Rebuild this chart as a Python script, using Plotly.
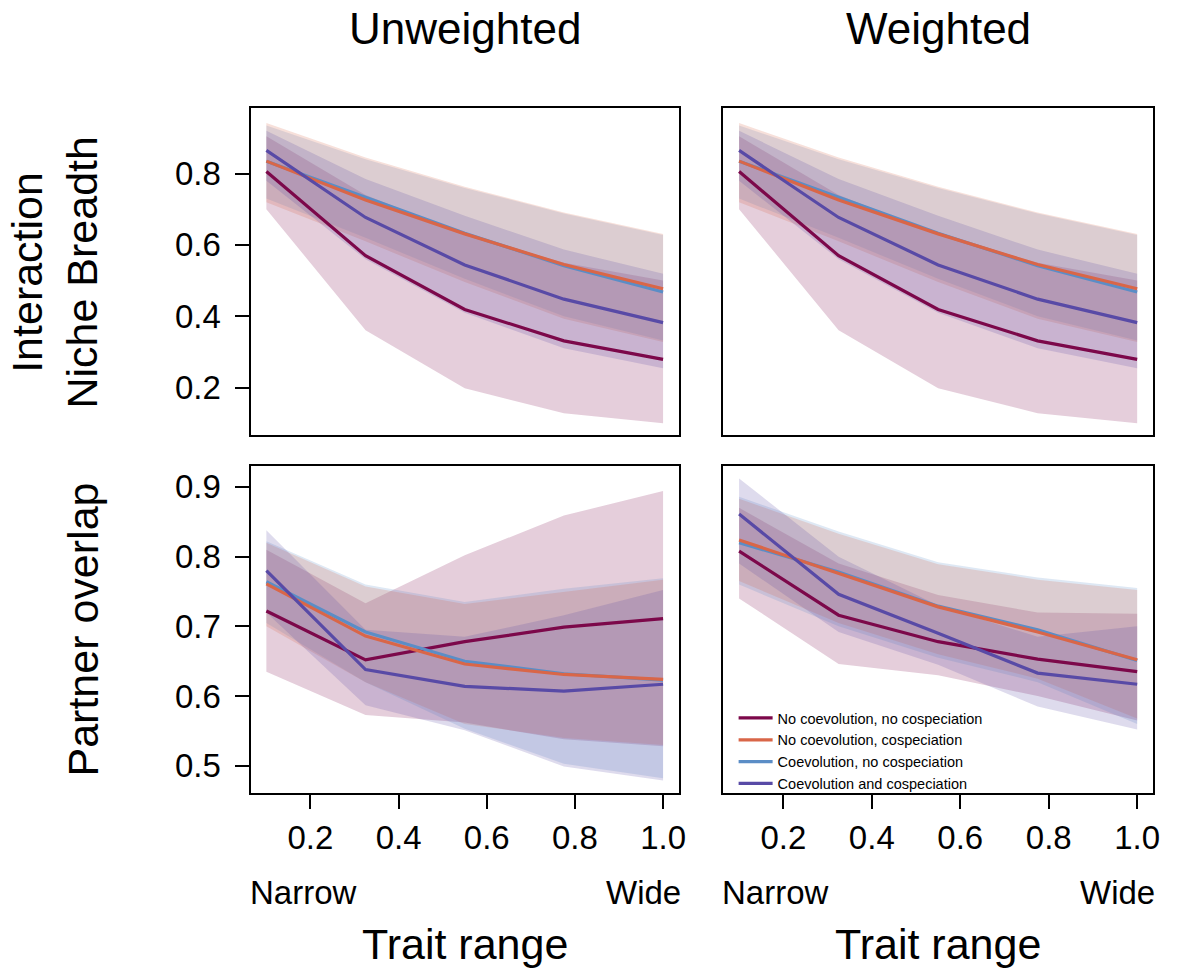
import plotly.graph_objects as go

# ---------------- data ----------------
X = [0.1, 0.325, 0.55, 0.775, 1.0]
SERIES = ["No coevolution, no cospeciation", "No coevolution, cospeciation",
          "Coevolution, no cospeciation", "Coevolution and cospeciation"]

# Interaction niche breadth, unweighted
NB_UNW_MEAN = [[0.806, 0.570, 0.419, 0.331, 0.279],
               [0.835, 0.726, 0.631, 0.545, 0.477],
               [0.835, 0.733, 0.633, 0.542, 0.468],
               [0.865, 0.677, 0.544, 0.448, 0.382]]
NB_UNW_HI = [[0.905, 0.740, 0.630, 0.550, 0.500],
             [0.942, 0.845, 0.763, 0.691, 0.631],
             [0.935, 0.840, 0.760, 0.688, 0.628],
             [0.920, 0.785, 0.682, 0.587, 0.519]]
NB_UNW_LO = [[0.700, 0.361, 0.198, 0.128, 0.100],
             [0.720, 0.610, 0.496, 0.393, 0.328],
             [0.730, 0.620, 0.505, 0.400, 0.332],
             [0.780, 0.560, 0.410, 0.310, 0.254]]

# Interaction niche breadth, weighted
NB_W_MEAN = [[0.806, 0.570, 0.419, 0.331, 0.279],
             [0.835, 0.726, 0.631, 0.545, 0.477],
             [0.835, 0.733, 0.633, 0.542, 0.468],
             [0.865, 0.677, 0.544, 0.448, 0.382]]
NB_W_HI = [[0.905, 0.740, 0.630, 0.550, 0.500],
           [0.942, 0.845, 0.763, 0.691, 0.631],
           [0.935, 0.840, 0.760, 0.688, 0.628],
           [0.920, 0.785, 0.682, 0.587, 0.519]]
NB_W_LO = [[0.700, 0.361, 0.198, 0.128, 0.100],
           [0.720, 0.610, 0.496, 0.393, 0.328],
           [0.730, 0.620, 0.505, 0.400, 0.332],
           [0.780, 0.560, 0.410, 0.310, 0.254]]

# Partner overlap, unweighted
PO_UNW_MEAN = [[0.722, 0.652, 0.678, 0.699, 0.711],
               [0.761, 0.686, 0.646, 0.631, 0.624],
               [0.764, 0.692, 0.650, 0.632, 0.623],
               [0.780, 0.638, 0.614, 0.607, 0.617]]
PO_UNW_HI = [[0.810, 0.733, 0.802, 0.859, 0.894],
             [0.820, 0.757, 0.732, 0.750, 0.767],
             [0.822, 0.760, 0.735, 0.754, 0.769],
             [0.838, 0.695, 0.685, 0.716, 0.752]]
PO_UNW_LO = [[0.635, 0.573, 0.562, 0.538, 0.528],
             [0.700, 0.620, 0.560, 0.540, 0.530],
             [0.705, 0.620, 0.553, 0.503, 0.482],
             [0.720, 0.587, 0.551, 0.499, 0.479]]

# Partner overlap, weighted
PO_W_MEAN = [[0.808, 0.716, 0.678, 0.653, 0.635],
             [0.824, 0.776, 0.728, 0.692, 0.652],
             [0.820, 0.778, 0.729, 0.695, 0.651],
             [0.861, 0.746, 0.690, 0.633, 0.617]]
PO_W_HI = [[0.870, 0.790, 0.745, 0.720, 0.718],
           [0.883, 0.833, 0.789, 0.767, 0.752],
           [0.886, 0.836, 0.792, 0.770, 0.755],
           [0.912, 0.800, 0.730, 0.685, 0.700]]
PO_W_LO = [[0.740, 0.646, 0.630, 0.600, 0.565],
           [0.765, 0.705, 0.660, 0.625, 0.568],
           [0.760, 0.700, 0.655, 0.620, 0.560],
           [0.790, 0.692, 0.645, 0.585, 0.552]]

X_TICKS = [0.2, 0.4, 0.6, 0.8, 1.0]
X_TICKTEXT = ["0.2", "0.4", "0.6", "0.8", "1.0"]
NB_TICKS = [0.2, 0.4, 0.6, 0.8]
PO_TICKS = [0.5, 0.6, 0.7, 0.8, 0.9]

# ---------------- style ----------------
LINE_RGB = [(124, 8, 74), (217, 102, 72), (91, 141, 198), (88, 74, 166)]
BAND_ALPHA = 0.2
DRAW_ORDER = [0, 2, 1, 3]   # series index drawing order (orange above blue)
FONT = "Liberation Sans, Arial, Helvetica, sans-serif"
W, H = 1177, 977

fig = go.Figure()

panels = [
    ("x", "y", NB_UNW_MEAN, NB_UNW_LO, NB_UNW_HI, False),
    ("x2", "y2", NB_W_MEAN, NB_W_LO, NB_W_HI, False),
    ("x3", "y3", PO_UNW_MEAN, PO_UNW_LO, PO_UNW_HI, False),
    ("x4", "y4", PO_W_MEAN, PO_W_LO, PO_W_HI, True),
]

for xa, ya, mean, lo, hi, leg in panels:
    for i in DRAW_ORDER:
        r, g, b = LINE_RGB[i]
        fig.add_trace(go.Scatter(
            x=X + X[::-1], y=hi[i] + lo[i][::-1], fill="toself",
            fillcolor=f"rgba({r},{g},{b},{BAND_ALPHA})", line=dict(width=0),
            mode="lines", hoverinfo="skip", showlegend=False, xaxis=xa, yaxis=ya))
    for i in DRAW_ORDER:
        r, g, b = LINE_RGB[i]
        fig.add_trace(go.Scatter(
            x=X, y=mean[i], mode="lines", name=SERIES[i], legendrank=i + 1,
            line=dict(color=f"rgb({r},{g},{b})", width=3.2),
            showlegend=leg, xaxis=xa, yaxis=ya))

def px_x(p):
    return p / W

def px_y(p):
    return 1 - p / H

LX = [px_x(252), px_x(683)]
RX = [px_x(727.5), px_x(1160)]
TY = [px_y(435), px_y(108)]
BY = [px_y(793), px_y(466)]

common = dict(showline=True, mirror=True, linecolor="black", linewidth=2,
              showgrid=False, zeroline=False, tickcolor="black", tickwidth=1.6,
              ticklen=14, tickfont=dict(size=33, color="black", family=FONT))
XR = [0.064, 1.036]
NBR = [0.067, 0.984]
POR = [0.461, 0.930]

fig.update_layout(
    xaxis=dict(domain=LX, range=XR, anchor="y", ticks="", showticklabels=False, **common),
    xaxis2=dict(domain=RX, range=XR, anchor="y2", ticks="", showticklabels=False, **common),
    xaxis3=dict(domain=LX, range=XR, anchor="y3", ticks="outside", tickvals=X_TICKS, ticktext=X_TICKTEXT, **common),
    xaxis4=dict(domain=RX, range=XR, anchor="y4", ticks="outside", tickvals=X_TICKS, ticktext=X_TICKTEXT, **common),
    yaxis=dict(domain=TY, range=NBR, anchor="x", ticks="outside", tickvals=NB_TICKS,
               ticktext=[f"{v:.1f}" for v in NB_TICKS], ticklabelstandoff=7, **common),
    yaxis2=dict(domain=TY, range=NBR, anchor="x2", ticks="", showticklabels=False, **common),
    yaxis3=dict(domain=BY, range=POR, anchor="x3", ticks="outside", tickvals=PO_TICKS,
                ticktext=[f"{v:.1f}" for v in PO_TICKS], ticklabelstandoff=7, **common),
    yaxis4=dict(domain=BY, range=POR, anchor="x4", ticks="", showticklabels=False, **common),
)

ann_font = dict(family=FONT, color="black")
annotations = [
    dict(text="Unweighted", x=px_x(467.5), y=px_y(29), size=44),
    dict(text="Weighted", x=px_x(944), y=px_y(29), size=44),
    dict(text="Trait range", x=px_x(467.5), y=px_y(944), size=43),
    dict(text="Trait range", x=px_x(944), y=px_y(944), size=43),
]
anns = []
for a in annotations:
    anns.append(dict(text=a["text"], x=a["x"], y=a["y"], xref="paper", yref="paper",
                     xanchor="center", yanchor="middle", showarrow=False,
                     font=dict(size=a["size"], **ann_font)))
for left, right in [(252, 683), (727.5, 1160)]:
    anns.append(dict(text="Narrow", x=px_x(left - 3), y=px_y(892), xref="paper", yref="paper",
                     xanchor="left", yanchor="middle", showarrow=False,
                     font=dict(size=33, **ann_font)))
    anns.append(dict(text="Wide", x=px_x(right + 4), y=px_y(892), xref="paper", yref="paper",
                     xanchor="right", yanchor="middle", showarrow=False,
                     font=dict(size=33, **ann_font)))
anns.append(dict(text="Interaction", x=px_x(27), y=px_y(272), xref="paper", yref="paper",
                 xanchor="center", yanchor="middle", textangle=-90, showarrow=False,
                 font=dict(size=43, **ann_font)))
anns.append(dict(text="Niche Breadth", x=px_x(82), y=px_y(272), xref="paper", yref="paper",
                 xanchor="center", yanchor="middle", textangle=-90, showarrow=False,
                 font=dict(size=43, **ann_font)))
anns.append(dict(text="Partner overlap", x=px_x(83), y=px_y(630), xref="paper", yref="paper",
                 xanchor="center", yanchor="middle", textangle=-90, showarrow=False,
                 font=dict(size=43, **ann_font)))

fig.update_layout(
    annotations=anns,
    width=W, height=H, autosize=False,
    margin=dict(l=0, r=0, t=0, b=0, pad=0),
    paper_bgcolor="white", plot_bgcolor="white",
    font=dict(family=FONT, color="black"),
    legend=dict(x=px_x(738), y=px_y(702), xanchor="left", yanchor="top",
                bgcolor="rgba(0,0,0,0)", font=dict(size=14.5, family=FONT, color="black"),
                tracegroupgap=0, itemwidth=34, traceorder="normal"),
)

fig.write_html("out.html", config={"displayModeBar": False},
               post_script="document.body.style.margin='0';document.body.style.overflow='hidden';")
